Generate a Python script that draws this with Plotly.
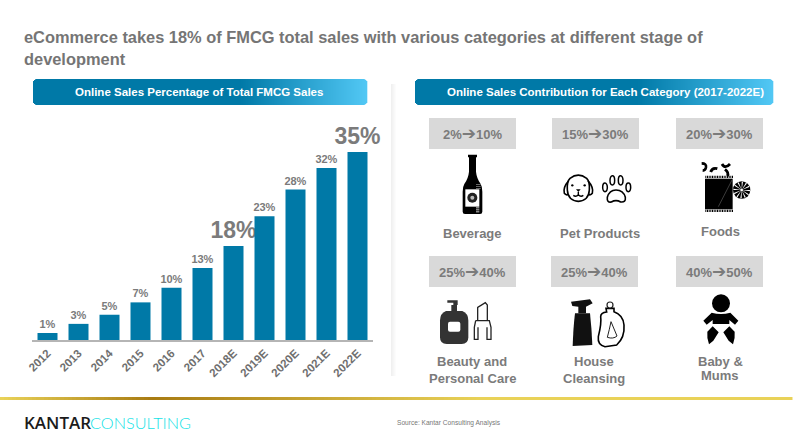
import re, math
import plotly.graph_objects as go

# ---------- data ----------
years = ["2012","2013","2014","2015","2016","2017","2018E","2019E","2020E","2021E","2022E"]
online_share = [1.3,3,4.7,7,9.7,13.4,17.5,23,28,32,35]
share_labels = ["1%","3%","5%","7%","10%","13%","18%","23%","28%","32%","35%"]
label_sizes = [11,11,11,11,11,11,23,11,11,11,23]

categories = ["Beverage","Pet Products","Foods","Beauty and<br>Personal Care","House<br>Cleansing","Baby &<br>Mums"]
range_from = ["2%","15%","20%","25%","25%","40%"]
range_to = ["10%","30%","30%","40%","40%","50%"]

title = "eCommerce takes 18% of FMCG total sales with various categories at different stage of<br>development"
left_header = "Online Sales Percentage of Total FMCG Sales"
right_header = "Online Sales Contribution for Each Category (2017-2022E)"
source = "Source: Kantar Consulting Analysis"

GREY = "#7b7b7b"
FONT = "Liberation Sans, Arial, DejaVu Sans"
BAR = "#0079a7"
W, H = 793, 446

shapes, ann = [], []

def px(**k):
    k.update(xref="x2", yref="y2")
    shapes.append(k)

def rect(x0,y0,x1,y1,color):
    px(type="rect",x0=x0,y0=y0,x1=x1,y1=y1,fillcolor=color,line_width=0,layer="below")

def lerp(c1,c2,t):
    a=[int(c1[i:i+2],16) for i in (1,3,5)]; b=[int(c2[i:i+2],16) for i in (1,3,5)]
    return "rgb(%d,%d,%d)"%tuple(round(p+(q-p)*t) for p,q in zip(a,b))

def text(x,y,s,size=12,color=GREY,bold=True,anchor="center",font=FONT,weight=None):
    f=dict(size=size,color=color,family=font)
    if weight: f["weight"]=weight
    ann.append(dict(xref="x2",yref="y2",x=x,y=y,text=f"<b>{s}</b>" if bold else s,showarrow=False,
        xanchor=anchor,yanchor="middle",align=anchor,font=f,borderpad=0))

def header(x0,x1,y0,y1,label,cx):
    r=4; n=int(x1-x0)
    for i in range(n):
        xa=x0+i; t=i/n
        col = "#0079a7" if t<0.62 else lerp("#0079a7","#52c8f5",(t-0.62)/0.38)
        d = min(i+0.5,n-i-0.5)
        inset = 0 if d>=r else r-(r*r-(r-d)**2)**0.5
        rect(xa,y0+inset,xa+1.3,y1-inset,col)
    text(cx,(y0+y1)/2,label,size=11.5,color="#ffffff")

def tf(path,ox,oy,s=1/3):
    tok=re.findall(r"[MLCQZ]|-?\d+\.?\d*",path);isx=True;res=""
    for t in tok:
        if t.isalpha():
            res+=t; isx=True
        else:
            res+=f"{(ox if isx else oy)+float(t)*s:.2f} "; isx=not isx
    return res

def icon(path,org,fill="#000000",stroke=None,w=1):
    px(type="path",path=tf(path,*org),fillcolor=fill,
       line=dict(color=stroke or "rgba(0,0,0,0)",width=w if stroke else 0))

def oval(cx,cy,rx,ry,org,fill="#000000",stroke=None,w=1,s=1/3):
    ox,oy=org
    px(type="circle",x0=ox+(cx-rx)*s,x1=ox+(cx+rx)*s,y0=oy+(cy-ry)*s,y1=oy+(cy+ry)*s,fillcolor=fill,
       line=dict(color=stroke or "rgba(0,0,0,0)",width=w if stroke else 0))

# ---------- frame ----------
text(23,37,title.split("<br>")[0],size=16.4,color="#757575",anchor="left")
text(23,59,title.split("<br>")[1],size=16.4,color="#757575",anchor="left")
header(33,367,79,105,left_header,199)
header(415,773,79,105,right_header,605.5)
for i in range(6):
    rect(391+i,84,392+i,376,lerp("#f0f0f0","#ffffff",i/5))
for i in range(W//4):
    xa=i*4; t=min(abs(xa-150)/150,1) if xa<150 else min((xa-150)/330,1)
    rect(xa,397,xa+4.5,400,lerp("#a87b12","#e9d258",t))

# ---------- category boxes ----------
box_x=[429,552,676,429,551,676]
box_y=[118,118,118,256,256,256]
label_x=[472,600,720,472,594,720]
label_y=[233,233,231,370,370,368.5]
for i in range(6):
    rect(box_x[i],box_y[i],box_x[i]+87,box_y[i]+31,"#d9d9d9")
    arrow='<span style="font-size:17px">➔</span>'
    text(box_x[i]+43.5,box_y[i]+15,range_from[i]+arrow+range_to[i],size=13)
    lines=categories[i].split("<br>")
    if len(lines)==1:
        text(label_x[i],label_y[i],lines[0],size=13)
    else:
        gap=8.2 if i<5 else 7
        text(label_x[i],label_y[i]-gap,lines[0],size=13)
        text(label_x[i],label_y[i]+gap,lines[1],size=13)

# ---------- icons ----------
A=(410,110); B=(410,250)
# bottle
icon("M174 134 L201 134 L201 142 L198 142 L198 185 Q200 205 212 222 Q217 230 217 245 L217 305 Q217 312 210 312 L165 312 Q158 312 158 305 L158 245 Q158 230 163 222 Q175 205 177 185 L177 142 L174 142 Z",A)
icon("M166 238 L208 238 L208 290 L166 290 Z",A,fill="#ffffff")
oval(187,263,15,15,A,fill="#222222")
oval(187,263,6,6,A,fill="#bbbbbb")
for yy in (292,298,304):
    icon(f"M198 {yy} L208 {yy} L208 {yy+3} L198 {yy+3} Z",A,fill="#cccccc")
for yy in (222,228,234):
    icon(f"M198 {yy} L212 {yy} L212 {yy+2} L198 {yy+2} Z",A,fill="#999999")
# dog
icon("M480 205 Q505 186 530 205 Q540 215 538 240 Q536 272 505 274 Q474 272 472 240 Q470 215 480 205 Z",A,fill="#ffffff",stroke="#000000",w=1.6)
icon("M476 212 Q458 232 463 250 Q470 258 474 252 M534 212 Q552 232 547 250 Q540 258 536 252",A,fill="rgba(0,0,0,0)",stroke="#000000",w=1.6)
oval(487,226,3.5,3.5,A); oval(524,226,3.5,3.5,A)
icon("M498 238 L512 238 L505 246 Z",A)
icon("M505 246 L505 254 M490 256 Q498 262 505 254 Q512 262 520 256",A,fill="rgba(0,0,0,0)",stroke="#000000",w=1.4)
# paw
for cx,cy,rx,ry in [(585,232,7,13),(607,211,7,14),(632,211,7,14),(655,232,7,13)]:
    oval(cx,cy,rx,ry,A,fill="#ffffff",stroke="#000000",w=1.5)
icon("M618 240 Q640 240 646 262 Q648 278 632 276 Q618 268 604 276 Q590 278 592 262 Q598 240 618 240 Z",A,fill="#ffffff",stroke="#000000",w=1.6)
# foods
icon("M885 206 L968 206 L968 298 L885 298 Z",A)
for xx in range(886,968,5):
    icon(f"M{xx} 197 L{xx+3} 197 L{xx+3} 204 L{xx} 204 Z",A)
    icon(f"M{xx} 299 L{xx+3} 299 L{xx+3} 306 L{xx} 306 Z",A)
icon("M966 210 L925 290",A,fill="rgba(0,0,0,0)",stroke="#777777",w=0.5)
oval(995,240,26,26,A,fill="#000000")
for k in range(12):
    ang=k*math.pi/6
    xe=995+25*math.cos(ang); ye=240+25*math.sin(ang)
    xf=995+25*math.cos(ang+0.16); yf=240+25*math.sin(ang+0.16)
    icon(f"M995 240 L{xe:.1f} {ye:.1f} L{xf:.1f} {yf:.1f} Z",A,fill="#ffffff")
oval(995,240,4,4,A,fill="#ffffff")
icon("M875 160 Q890 160 888 172 Q886 182 878 182",A,fill="rgba(0,0,0,0)",stroke="#000000",w=2.6)
icon("M902 186 Q906 172 922 176",A,fill="rgba(0,0,0,0)",stroke="#000000",w=2.8)
icon("M936 162 Q945 178 960 162 M945 178 Q958 188 952 198",A,fill="rgba(0,0,0,0)",stroke="#000000",w=2.8)
# pump bottle
icon("M108 183 L157 183 Q175 190 175 212 L175 262 Q175 282 155 282 L110 282 Q90 282 90 262 L90 212 Q90 190 108 183 Z",B,fill="#333333")
icon("M124 183 L124 165 L130 165 L130 158 L112 158 L112 151 L143 151 L143 165 L141 165 L141 183 Z",B,fill="#333333")
icon("M120 215 L145 215 Q151 215 151 221 L151 239 Q151 245 145 245 L120 245 Q114 245 114 239 L114 221 Q114 215 120 215 Z",B,fill="#ffffff")
icon("M203 210 L203 172 L226 158 L232 165 L232 210 M197 212 L238 212 L243 232 L243 268 L231 268 L231 232 M197 212 L193 232 L193 268 L204 268 L204 232",B,fill="rgba(0,0,0,0)",stroke="#222222",w=1.3)
# spray + bottle
icon("M495 190 L540 190 Q545 235 547 285 L488 288 Q490 230 495 190 Z",B,fill="#111111")
icon("M505 190 L505 170 L487 168 L483 155 L540 148 L548 160 L528 170 L528 190 Z",B,fill="#111111")
icon("M588 175 L612 175 L612 185 Q640 195 642 225 Q645 262 620 285 L585 290 Q562 285 565 260 Q575 220 572 200 Q572 188 590 186 Z",B,fill="#ffffff",stroke="#000000",w=1.6)
icon("M603 215 L621 258 Q610 268 592 262 Q598 240 603 215 Z",B,fill="#ffffff",stroke="#222222",w=1)
oval(600,165,9,9,B,fill="#ffffff",stroke="#222222",w=1.2)
# baby
oval(933,160,27,27,B)
icon("M905 188 Q933 196 961 188 L985 212 L975 224 L958 210 L958 222 L908 222 L908 210 L890 224 L880 212 Z",B)
icon("M908 229 L926 247 L910 272 L897 283 Q890 265 892 245 Z M958 229 L940 247 L956 272 L969 283 Q976 265 974 245 Z",B)

# ---------- logo / source ----------
text(23,422,"KANTAR",size=17,color="#1b1b1b",bold=False,anchor="left",font="Open Sans, Liberation Sans",weight=600)
text(89,422,"CONSULTING",size=16.3,color="#13e2e6",bold=False,anchor="left",font="Lato, Open Sans",weight=300)
text(396,422.5,source,size=6.6,color="#777777",bold=False,anchor="left")

# ---------- figure ----------
fig=go.Figure()
fig.add_bar(x=years,y=online_share,text=share_labels,textposition="outside",cliponaxis=False,constraintext="none",
    textfont=dict(size=label_sizes,color=GREY,family=FONT,weight="bold"),
    marker=dict(color=BAR,line=dict(width=0)),hoverinfo="x+y",width=0.645)
fig.add_scatter(x=[0,W],y=[0,H],xaxis="x2",yaxis="y2",mode="markers",marker=dict(opacity=0),hoverinfo="skip",showlegend=False)

fig.update_layout(width=W,height=H,margin=dict(l=0,r=0,t=0,b=0),paper_bgcolor="white",plot_bgcolor="rgba(0,0,0,0)",
    showlegend=False,shapes=shapes,annotations=ann,
    xaxis=dict(domain=[32/W,373/W],anchor="y",tickangle=-45,showgrid=False,ticks="",showline=True,linecolor="#b5b5b5",linewidth=2,
               tickfont=dict(size=11.5,color="#6f6f6f",family=FONT,weight=600),automargin=False),
    yaxis=dict(domain=[1-340/H,1-125/H],anchor="x",range=[0,40],visible=False,automargin=False),
    xaxis2=dict(domain=[0,1],range=[0,W],visible=False,anchor="y2",fixedrange=True),
    yaxis2=dict(domain=[0,1],range=[H,0],visible=False,anchor="x2",fixedrange=True))
fig.write_html("out.html",config=dict(displayModeBar=False),post_script="document.body.style.margin='0';")
